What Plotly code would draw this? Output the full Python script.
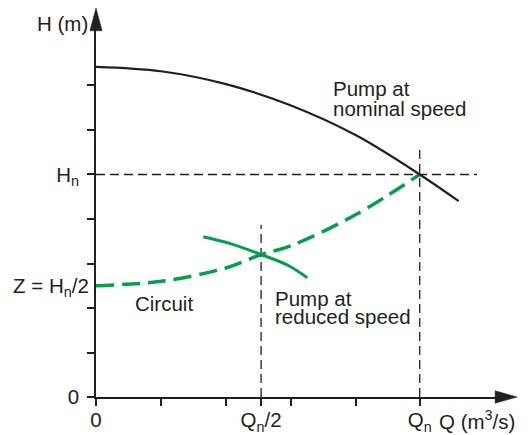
import plotly.graph_objects as go

# ---- data (schematic units: x tick = 1 unit, y tick = 1 unit) ----
pump_nominal_Q = [0.0, 1.0, 2.0, 3.0, 4.0, 4.98, 5.58]
pump_nominal_H = [7.42, 7.32, 7.03, 6.55, 5.88, 5.0, 4.4]

circuit_Q = [0.0, 1.0, 2.0, 2.54, 3.0, 4.0, 4.98]
circuit_H = [2.5, 2.6, 2.9, 3.2, 3.4, 4.1, 5.0]

pump_reduced_Q = [1.65, 2.08, 2.54, 2.95, 3.25]
pump_reduced_H = [3.6, 3.44, 3.2, 2.96, 2.68]

Qn = 4.98
Qn_half = 2.54
Hn = 5.0
Z = 2.5

x_tickvals = [0, 1, 2, Qn_half, 3, 4, Qn]
x_ticktext = ["0", "", "", "Q<sub>n</sub>/2", "", "", "Q<sub>n</sub>"]
y_tickvals = [0, 1, 2, 3, 4, Hn, 6, 7]
y_ticktext = ["0", "", "", "", "", "H<sub>n</sub>", "", ""]

XMAX = 6.215
YMAX = 8.247

INK = "#231f20"
GREEN = "#00a14b"
FONT = "Liberation Sans, Arial, sans-serif"

fig = go.Figure()

# reference dashed lines
dash_black = dict(color=INK, width=1.3, dash="9px,5px")
fig.add_trace(go.Scatter(x=[0, 5.86], y=[Hn, Hn], mode="lines", line=dash_black, hoverinfo="skip"))
fig.add_trace(go.Scatter(x=[Qn, Qn], y=[0, 5.66], mode="lines", line=dash_black, hoverinfo="skip"))
fig.add_trace(go.Scatter(x=[Qn_half, Qn_half], y=[0, 3.87], mode="lines", line=dash_black, hoverinfo="skip"))

# curves
fig.add_trace(go.Scatter(x=circuit_Q, y=circuit_H, mode="lines", line_shape="spline",
                         line=dict(color=GREEN, width=3.5, dash="18px,8px"), hoverinfo="skip"))
fig.add_trace(go.Scatter(x=pump_reduced_Q, y=pump_reduced_H, mode="lines", line_shape="spline",
                         line=dict(color=GREEN, width=3), hoverinfo="skip"))
fig.add_trace(go.Scatter(x=pump_nominal_Q, y=pump_nominal_H, mode="lines", line_shape="spline",
                         line=dict(color=INK, width=2.2), hoverinfo="skip"))

def px(x):
    return x / XMAX

def py(y):
    return y / YMAX

shapes = [
    # x-axis arrow head
    dict(type="path", xref="paper", yref="paper",
         path=f"M {px(6.48)} {py(0)} L {px(6.14)} {py(0.14)} L {px(6.14)} {py(-0.14)} Z",
         fillcolor=INK, line=dict(color=INK, width=0.5)),
    # y-axis arrow head
    dict(type="path", xref="paper", yref="paper",
         path=f"M {px(0)} {py(8.74)} L {px(-0.094)} {py(8.23)} L {px(0.094)} {py(8.23)} Z",
         fillcolor=INK, line=dict(color=INK, width=0.5)),
]

tf = dict(family=FONT, size=20.5, color=INK)
annotations = [
    dict(x=px(3.615), y=py(6.94), text="Pump at", xanchor="left", yanchor="middle"),
    dict(x=px(3.615), y=py(6.49), text="nominal speed", xanchor="left", yanchor="middle"),
    dict(x=px(0.57), y=py(2.09), text="Circuit", xanchor="left", yanchor="middle"),
    dict(x=px(2.72), y=py(2.22), text="Pump at", xanchor="left", yanchor="middle"),
    dict(x=px(2.72), y=py(1.80), text="reduced speed", xanchor="left", yanchor="middle"),
    dict(x=px(-0.09), y=py(8.40), text="H (m)", xanchor="right", yanchor="middle"),
    dict(x=px(-0.07), y=py(2.47), text="Z = H<sub>n</sub>/2", xanchor="right", yanchor="middle"),
    dict(x=px(5.25), y=py(-0.52), text="Q (m<sup>3</sup>/s)", xanchor="left", yanchor="middle"),
]
for a in annotations:
    a.update(xref="paper", yref="paper", showarrow=False, font=tf)

# page body adds an 8px margin, so the figure is 8px smaller on each side
fig.update_layout(
    width=520, height=427,
    margin=dict(l=88, r=28, t=22, b=38),
    paper_bgcolor="white", plot_bgcolor="white",
    showlegend=False,
    shapes=shapes,
    annotations=annotations,
    xaxis=dict(range=[0, XMAX], showgrid=False, zeroline=False, automargin=False,
               showline=True, linecolor=INK, linewidth=1.6,
               ticks="outside", ticklen=7, tickwidth=1.5, tickcolor=INK,
               tickvals=x_tickvals, ticktext=x_ticktext,
               tickfont=tf, ticklabelstandoff=-3, fixedrange=True),
    yaxis=dict(range=[0, YMAX], showgrid=False, zeroline=False, automargin=False,
               showline=True, linecolor=INK, linewidth=1.6,
               ticks="outside", ticklen=7, tickwidth=1.5, tickcolor=INK,
               tickvals=y_tickvals, ticktext=y_ticktext,
               tickfont=tf, ticklabelstandoff=4, fixedrange=True),
)

fig.write_html("out.html")
